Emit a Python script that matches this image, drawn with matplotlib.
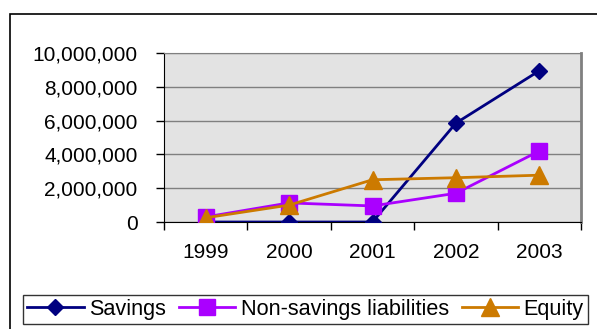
import matplotlib
matplotlib.use("Agg")
import matplotlib.pyplot as plt
from matplotlib.patches import Rectangle
from matplotlib.ticker import FuncFormatter

plt.rcParams['font.family'] = ['Liberation Sans', 'DejaVu Sans']

years = ["1999", "2000", "2001", "2002", "2003"]
savings = [0, 0, 0, 5850000, 8950000]
non_savings = [300000, 1130000, 950000, 1700000, 4200000]
equity = [250000, 1000000, 2500000, 2620000, 2770000]

fig = plt.figure(figsize=(5.97, 3.29), dpi=100)

# outer chart frame (only top and left edges are visible in the crop)
fig.add_artist(Rectangle((10/597, -0.5), 2.0, 1.5 - 14/329, transform=fig.transFigure,
                         fill=False, edgecolor="black", linewidth=1.2))

ax = fig.add_axes([164/597, 1 - 222/329, (581 - 164)/597, (222 - 53)/329])
ax.set_facecolor("#E3E3E3")

x = [i + 0.5 for i in range(len(years))]
ax.plot(x, savings, color="#000080", marker="D", markersize=8, linewidth=2,
        label="Savings", zorder=3)
ax.plot(x, non_savings, color="#AA00FF", marker="s", markersize=11, linewidth=2,
        label="Non-savings liabilities", zorder=4)
ax.plot(x, equity, color="#CC7A00", marker="^", markersize=13, linewidth=2,
        label="Equity", zorder=5)

ax.set_xlim(0, 5)
ax.set_ylim(0, 10000000)
ax.set_yticks(range(0, 10000001, 2000000))
ax.yaxis.set_major_formatter(FuncFormatter(lambda v, p: "{:,.0f}".format(v)))
ax.grid(axis="y", color="#808080", linewidth=1)
ax.set_axisbelow(True)

ax.set_xticks(range(0, 6))
ax.set_xticklabels([])
ax.set_xticks(x, minor=True)
ax.set_xticklabels(years, minor=True)
ax.tick_params(axis="x", which="major", direction="out", length=6, width=1)
ax.tick_params(axis="x", which="minor", length=0, pad=15, labelsize=15)
ax.tick_params(axis="y", direction="out", length=6, width=1, pad=13, labelsize=15)

ax.spines["left"].set_color("black")
ax.spines["bottom"].set_color("black")
ax.spines["top"].set_color("#808080")
ax.spines["right"].set_color("#808080")
ax.spines["right"].set_linewidth(2)

leg = fig.legend(loc="center", bbox_to_anchor=(305.5/597, 1 - 309.5/329), ncol=3,
                 fontsize=15.6, frameon=True, fancybox=False, edgecolor="black",
                 handlelength=2.6, handletextpad=0.25, columnspacing=0.6,
                 borderpad=0.2, borderaxespad=0)
leg.get_frame().set_linewidth(1)

fig.savefig("out.png", dpi=100)
